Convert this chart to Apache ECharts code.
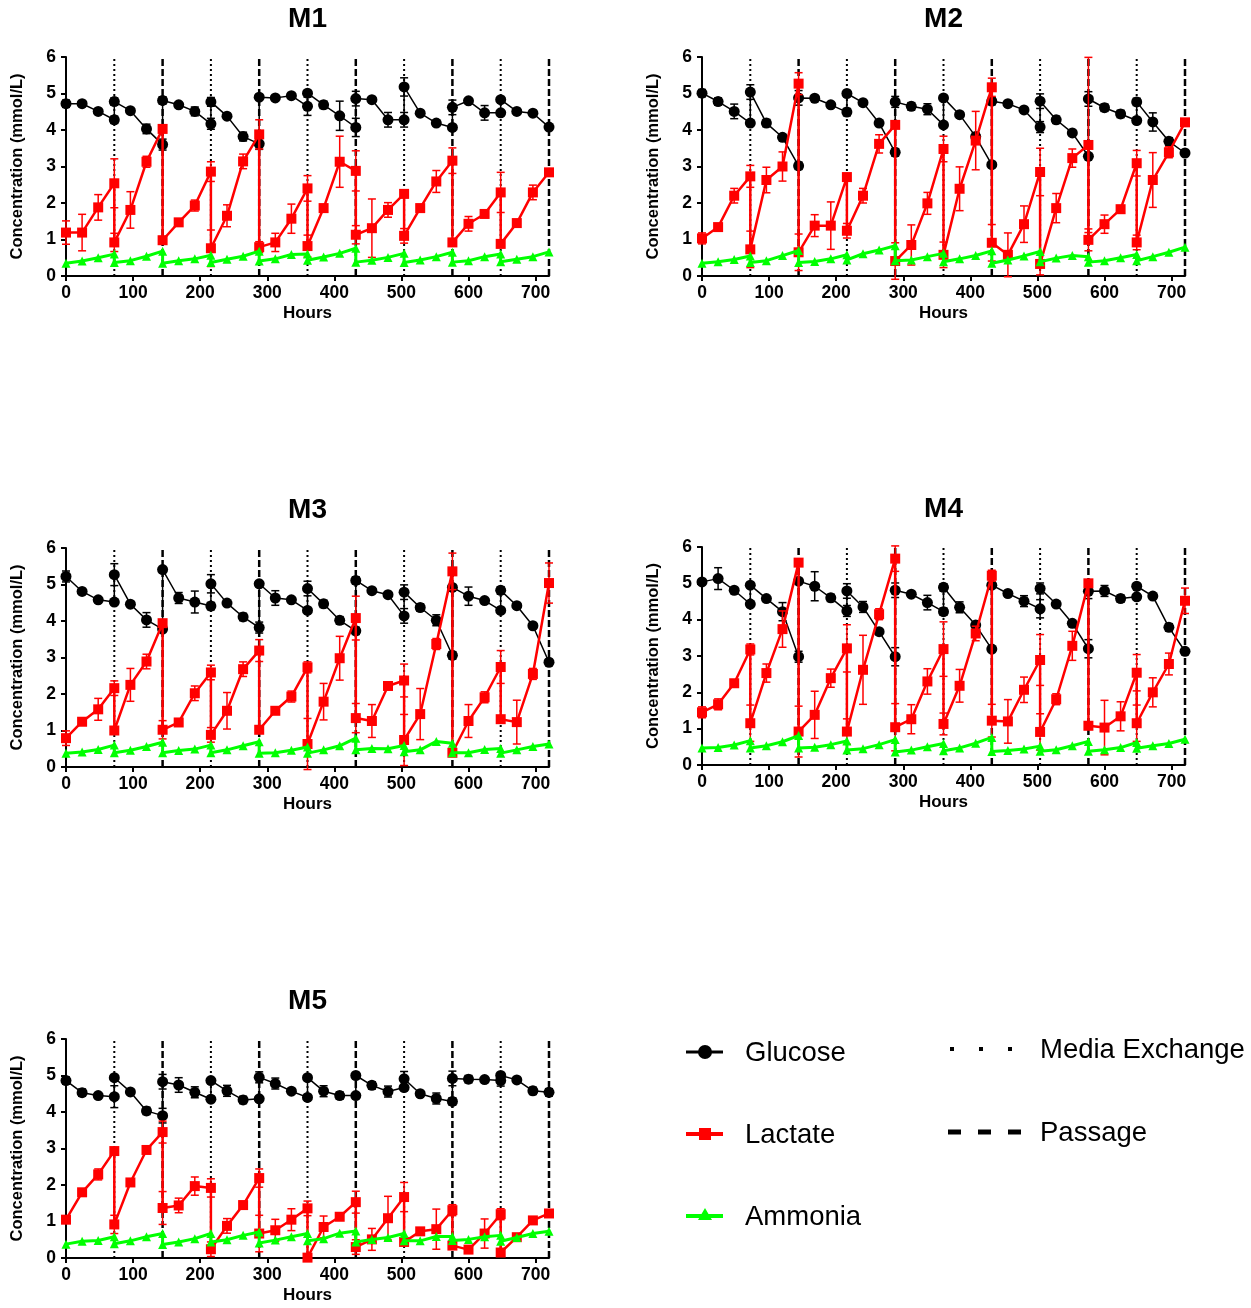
<!DOCTYPE html>
<html><head><meta charset="utf-8">
<script src="https://cdn.jsdelivr.net/npm/echarts@6/dist/echarts.min.js"></script>
<style>html,body{margin:0;padding:0;background:#fff}#c{width:1251px;height:1308px}</style>
</head><body><div id="c"></div>
<script>
const HOURS = [0,24,48,72,72,96,120,144,144,168,192,216,216,240,264,288,288,312,336,360,360,384,408,432,432,456,480,504,504,528,552,576,576,600,624,648,648,672,696,720];
const MEDIA_EXCHANGE = [72,216,360,504,648];
const PASSAGE = [144,288,432,576,720];
const PANEL_NAMES = ['M1','M2','M3','M4','M5'];
const SERIES_NAMES = ['Glucose','Lactate','Ammonia'];
const LINE_NAMES = ['Media Exchange','Passage'];

const M1_GLU = [4.72,4.72,4.51,4.28,4.78, 4.53,4.03,3.60,4.81, 4.69,4.51,4.17,4.77, 4.38,3.82,3.62,4.90, 4.88,4.94,4.65,5.01, 4.69,4.39,4.07,4.86, 4.83,4.28,4.28,5.18, 4.46,4.19,4.07,4.62, 4.80,4.47,4.47,4.83, 4.51,4.46,4.08];
const M1_LAC = [1.19,1.19,1.88,2.54,0.92, 1.81,3.13,4.03,0.98, 1.47,1.93,2.86,0.76, 1.65,3.14,3.88,0.79, 0.92,1.57,2.40,0.82, 1.86,3.13,2.88,1.13, 1.31,1.81,2.25,1.10, 1.86,2.59,3.16,0.92, 1.43,1.70,2.29,0.88, 1.45,2.29,2.84];
const M1_AMM = [0.35,0.41,0.50,0.60,0.37, 0.42,0.54,0.68,0.35, 0.42,0.47,0.57,0.37, 0.46,0.54,0.68,0.41, 0.47,0.59,0.60,0.43, 0.52,0.62,0.76,0.38, 0.43,0.51,0.62,0.37, 0.44,0.53,0.65,0.38, 0.42,0.53,0.60,0.39, 0.46,0.53,0.66];
const M1_GLU_ERR = [0.10,0.05,0.05,0.10,0.10, 0.05,0.13,0.15,0.10, 0.05,0.12,0.15,0.12, 0.05,0.12,0.15,0.05, 0.05,0.05,0.25,0.05, 0.10,0.40,0.25,0.20, 0.05,0.20,0.20,0.25, 0.05,0.05,0.05,0.20, 0.05,0.20,0.05,0.05, 0.05,0.05,0.05];
const M1_LAC_ERR = [0.32,0.50,0.35,0.67,0.25, 0.50,0.15,0.10,0.10, 0.05,0.15,0.27,0.50, 0.30,0.20,0.40,0.15, 0.25,0.40,0.35,0.30, 0.10,0.70,0.55,0.25, 0.80,0.20,0.10,0.20, 0.10,0.30,0.35,0.10, 0.20,0.10,0.55,0.10, 0.05,0.20,0.05];

const M2_GLU = [5.01,4.78,4.51,4.19,5.04, 4.19,3.80,3.02,4.88, 4.87,4.69,4.49,5.00, 4.75,4.19,3.39,4.77, 4.65,4.57,4.14,4.88, 4.42,3.82,3.05,4.79, 4.72,4.55,4.08,4.79, 4.28,3.92,3.28,4.85, 4.61,4.44,4.26,4.77, 4.22,3.69,3.37];
const M2_LAC = [1.03,1.34,2.20,2.73,0.73, 2.63,3.00,5.27,0.65, 1.38,1.38,2.71,1.24, 2.20,3.62,4.14,0.41, 0.85,1.99,3.48,0.58, 2.39,3.71,5.17,0.91, 0.58,1.42,2.85,0.33, 1.86,3.23,3.59,0.99, 1.42,1.83,3.09,0.92, 2.63,3.39,4.21];
const M2_AMM = [0.35,0.39,0.45,0.55,0.37, 0.42,0.56,0.70,0.37, 0.40,0.47,0.58,0.44, 0.61,0.71,0.83,0.42, 0.44,0.53,0.62,0.39, 0.47,0.56,0.69,0.35, 0.44,0.55,0.67,0.39, 0.49,0.56,0.53,0.38, 0.42,0.50,0.59,0.42, 0.53,0.65,0.79];
const M2_GLU_ERR = [0.10,0.10,0.20,0.05,0.20, 0.10,0.05,0.10,0.20, 0.05,0.05,0.10,0.05, 0.05,0.05,0.10,0.15, 0.10,0.15,0.05,0.05, 0.05,0.10,0.05,0.10, 0.05,0.05,0.15,0.20, 0.10,0.05,0.05,0.20, 0.10,0.10,0.05,0.10, 0.25,0.10,0.05];
const M2_LAC_ERR = [0.15,0.05,0.20,0.30,0.50, 0.35,0.40,0.30,0.50, 0.30,0.65,0.10,0.20, 0.20,0.25,0.05,0.50, 0.55,0.30,0.35,0.35, 0.60,0.80,0.25,0.50, 0.60,0.50,0.65,0.30, 0.40,0.25,2.40,0.30, 0.25,0.10,0.35,0.20, 0.75,0.15,0.05];

const M3_GLU = [5.22,4.81,4.58,4.52,5.27, 4.46,4.03,3.78,5.41, 4.63,4.52,4.41,5.02, 4.49,4.11,3.82,5.02, 4.63,4.58,4.29,4.89, 4.47,4.02,3.73,5.11, 4.83,4.72,4.14,4.79, 4.37,4.02,3.06,4.92, 4.68,4.56,4.29,4.84, 4.42,3.87,2.87];
const M3_LAC = [0.79,1.24,1.58,2.16,1.00, 2.25,2.89,3.94,1.02, 1.22,2.02,2.59,0.88, 1.54,2.68,3.19,1.02, 1.54,1.93,2.73,0.63, 1.79,2.98,4.08,1.34, 1.26,2.22,2.37,0.74, 1.45,3.37,5.36,0.39, 1.26,1.91,2.74,1.31, 1.23,2.55,5.04];
const M3_AMM = [0.38,0.41,0.48,0.60,0.39, 0.46,0.56,0.68,0.39, 0.45,0.49,0.60,0.39, 0.47,0.58,0.69,0.38, 0.39,0.46,0.55,0.38, 0.47,0.58,0.79,0.47, 0.51,0.50,0.59,0.42, 0.47,0.70,0.65,0.39, 0.39,0.48,0.51,0.38, 0.47,0.56,0.63];
const M3_GLU_ERR = [0.15,0.05,0.05,0.05,0.30, 0.05,0.20,0.05,0.05, 0.15,0.30,0.10,0.25, 0.05,0.10,0.15,0.05, 0.20,0.05,0.05,0.20, 0.10,0.10,0.10,0.10, 0.05,0.05,0.20,0.20, 0.10,0.15,0.10,0.05, 0.25,0.05,0.05,0.10, 0.05,0.05,0.05];
const M3_LAC_ERR = [0.20,0.05,0.30,0.20,0.05, 0.45,0.20,0.05,0.25, 0.05,0.20,0.20,0.20, 0.50,0.20,0.30,0.05, 0.05,0.15,0.15,0.70, 0.50,0.60,0.60,0.40, 0.45,0.05,0.45,0.70, 0.70,0.15,0.50,0.05, 0.45,0.15,0.45,0.05, 0.60,0.15,0.55];

const M4_GLU = [5.04,5.13,4.81,4.43,4.95, 4.58,4.22,2.98,5.06, 4.92,4.60,4.24,4.79, 4.35,3.67,2.98,4.81, 4.70,4.47,4.22,4.89, 4.34,3.85,3.19,4.95, 4.72,4.51,4.30,4.86, 4.43,3.90,3.20,4.78, 4.79,4.58,4.63,4.92, 4.65,3.79,3.13];
const M4_LAC = [1.45,1.67,2.25,3.18,1.15, 2.53,3.74,5.57,0.92, 1.38,2.39,3.21,0.92, 2.62,4.15,5.68,1.04, 1.26,2.30,3.19,1.13, 2.18,3.62,5.21,1.22, 1.20,2.07,2.89,0.91, 1.81,3.28,5.00,1.08, 1.03,1.34,2.54,1.15, 2.00,2.78,4.52];
const M4_AMM = [0.47,0.48,0.55,0.67,0.47, 0.53,0.64,0.81,0.47, 0.49,0.56,0.66,0.41, 0.45,0.56,0.70,0.36, 0.41,0.50,0.59,0.39, 0.47,0.60,0.76,0.37, 0.40,0.44,0.52,0.38, 0.42,0.53,0.65,0.38, 0.42,0.48,0.62,0.46, 0.53,0.59,0.71];
const M4_GLU_ERR = [0.05,0.30,0.05,0.05,0.05, 0.05,0.25,0.15,0.05, 0.40,0.10,0.15,0.20, 0.15,0.05,0.25,0.20, 0.05,0.20,0.10,0.10, 0.15,0.05,0.05,0.05, 0.05,0.15,0.25,0.15, 0.05,0.05,0.25,0.20, 0.15,0.10,0.05,0.05, 0.05,0.10,0.05];
const M4_LAC_ERR = [0.15,0.15,0.05,0.15,0.50, 0.25,0.50,0.05,0.70, 0.65,0.25,0.65,0.35, 0.95,0.15,0.35,0.65, 0.40,0.35,0.75,0.30, 0.45,0.20,0.15,0.45, 0.60,0.35,0.70,0.50, 0.15,0.40,0.05,0.10, 0.75,0.40,0.50,0.50, 0.40,0.30,0.35];

const M5_GLU = [4.86,4.53,4.45,4.42,4.94, 4.55,4.03,3.90,4.83, 4.74,4.54,4.35,4.86, 4.58,4.33,4.36,4.95, 4.78,4.57,4.40,4.94, 4.57,4.45,4.45,5.00, 4.73,4.56,4.67,4.91, 4.50,4.37,4.29,4.92, 4.90,4.89,4.86,5.00, 4.88,4.58,4.54];
const M5_LAC = [1.05,1.80,2.29,2.93,0.92, 2.07,2.96,3.45,1.37, 1.44,1.97,1.92,0.24, 0.88,1.45,2.19,0.67, 0.76,1.05,1.36,0.01, 0.85,1.13,1.53,0.30, 0.51,1.09,1.67,0.44, 0.73,0.79,1.31,0.34, 0.23,0.67,1.20,0.15, 0.57,1.03,1.22];
const M5_AMM = [0.38,0.46,0.48,0.58,0.39, 0.47,0.58,0.67,0.37, 0.44,0.53,0.67,0.44, 0.50,0.62,0.71,0.41, 0.49,0.58,0.67,0.47, 0.53,0.68,0.74,0.44, 0.51,0.56,0.67,0.47, 0.47,0.59,0.59,0.48, 0.51,0.58,0.62,0.46, 0.56,0.67,0.73];
const M5_GLU_ERR = [0.10,0.10,0.05,0.30,0.05, 0.05,0.10,0.20,0.20, 0.20,0.15,0.05,0.05, 0.15,0.10,0.05,0.15, 0.15,0.05,0.05,0.05, 0.15,0.10,0.05,0.05, 0.10,0.15,0.05,0.20, 0.05,0.15,0.10,0.20, 0.10,0.05,0.15,0.05, 0.05,0.10,0.10];
const M5_LAC_ERR = [0.10,0.05,0.15,0.05,0.25, 0.10,0.05,0.30,0.45, 0.20,0.25,0.25,0.20, 0.20,0.10,0.25,0.50, 0.30,0.30,0.20,0.05, 0.30,0.05,0.30,0.20, 0.30,0.60,0.40,0.10, 0.05,0.55,0.15,0.05, 0.05,0.40,0.15,0.10, 0.05,0.05,0.05];

const PANELS = [
  {glu:M1_GLU, lac:M1_LAC, amm:M1_AMM, gluErr:M1_GLU_ERR, lacErr:M1_LAC_ERR},
  {glu:M2_GLU, lac:M2_LAC, amm:M2_AMM, gluErr:M2_GLU_ERR, lacErr:M2_LAC_ERR},
  {glu:M3_GLU, lac:M3_LAC, amm:M3_AMM, gluErr:M3_GLU_ERR, lacErr:M3_LAC_ERR},
  {glu:M4_GLU, lac:M4_LAC, amm:M4_AMM, gluErr:M4_GLU_ERR, lacErr:M4_LAC_ERR},
  {glu:M5_GLU, lac:M5_LAC, amm:M5_AMM, gluErr:M5_GLU_ERR, lacErr:M5_LAC_ERR}
];

// layout (pixels)
const GRIDS = [
  {left:66, top:57, width:483, height:219},
  {left:702, top:57, width:483, height:219},
  {left:66, top:548, width:483, height:219},
  {left:702, top:547, width:483, height:218},
  {left:66, top:1039, width:483, height:219}
];
const FONT = "'Liberation Sans', Arial, sans-serif";
const GLU_C = '#000000', LAC_C = '#ff0000', AMM_C = '#00ff00';

function errRender(color) {
  return function (params, api) {
    const x = api.value(0), y = api.value(1), e = api.value(2);
    const lo = api.coord([x, y - e]), hi = api.coord([x, y + e]);
    const hw = 4;
    const style = {stroke: color, lineWidth: 1.5};
    return {type: 'group', children: [
      {type: 'line', shape: {x1: lo[0], y1: lo[1], x2: hi[0], y2: hi[1]}, style: style},
      {type: 'line', shape: {x1: lo[0]-hw, y1: lo[1], x2: lo[0]+hw, y2: lo[1]}, style: style},
      {type: 'line', shape: {x1: hi[0]-hw, y1: hi[1], x2: hi[0]+hw, y2: hi[1]}, style: style}
    ]};
  };
}
function vlineRender(dash, width) {
  return function (params, api) {
    const x = api.value(0);
    const a = api.coord([x, 0]), b = api.coord([x, 6]);
    return {type: 'line', shape: {x1: a[0], y1: a[1], x2: b[0], y2: b[1]},
      style: {stroke: '#000', lineWidth: width, lineDash: dash}};
  };
}

const grid = [], xAxis = [], yAxis = [], series = [], graphic = [];
GRIDS.forEach((g, i) => {
  grid.push(g);
  xAxis.push({
    type: 'value', gridIndex: i, min: 0, max: 720, interval: 100,
    name: 'Hours', nameLocation: 'middle', nameGap: 29,
    nameTextStyle: {fontFamily: FONT, fontWeight: 'bold', fontSize: 17, color: '#000'},
    axisLine: {lineStyle: {color: '#000', width: 2}},
    axisTick: {length: 5, lineStyle: {color: '#000', width: 2}},
    axisLabel: {fontFamily: FONT, fontWeight: 'bold', fontSize: 17.5, color: '#000', margin: 8, showMaxLabel: false},
    splitLine: {show: false}
  });
  yAxis.push({
    type: 'value', gridIndex: i, min: 0, max: 6, interval: 1,
    name: 'Concentration (mmol/L)', nameLocation: 'middle', nameGap: 40,
    nameTextStyle: {fontFamily: FONT, fontWeight: 'bold', fontSize: 16.5, color: '#000'},
    axisLine: {show: true, lineStyle: {color: '#000', width: 2}},
    axisTick: {show: true, length: 5, lineStyle: {color: '#000', width: 2}},
    axisLabel: {fontFamily: FONT, fontWeight: 'bold', fontSize: 17.5, color: '#000', margin: 10},
    splitLine: {show: false}
  });
  const p = PANELS[i];
  const xy = (arr) => HOURS.map((h, k) => [h, arr[k]]);
  const xye = (arr, err) => HOURS.map((h, k) => [h, arr[k], err[k]]);
  series.push(
    {type: 'custom', name: LINE_NAMES[0], xAxisIndex: i, yAxisIndex: i, z: 1, silent: true,
      renderItem: vlineRender([2, 3], 2), data: MEDIA_EXCHANGE.map(v => [v, 0]), encode: {x: 0, y: 1}},
    {type: 'custom', name: LINE_NAMES[1], xAxisIndex: i, yAxisIndex: i, z: 1, silent: true,
      renderItem: vlineRender([7, 3], 2.5), data: PASSAGE.map(v => [v, 0]), encode: {x: 0, y: 1}},
    {type: 'custom', xAxisIndex: i, yAxisIndex: i, z: 2, silent: true,
      renderItem: errRender(GLU_C), data: xye(p.glu, p.gluErr), encode: {x: 0, y: 1}},
    {type: 'line', name: SERIES_NAMES[0], xAxisIndex: i, yAxisIndex: i, z: 3, data: xy(p.glu),
      symbol: 'circle', symbolSize: 11, itemStyle: {color: GLU_C}, lineStyle: {color: GLU_C, width: 1.5}, animation: false},
    {type: 'custom', xAxisIndex: i, yAxisIndex: i, z: 4, silent: true,
      renderItem: errRender(LAC_C), data: xye(p.lac, p.lacErr), encode: {x: 0, y: 1}},
    {type: 'line', name: SERIES_NAMES[1], xAxisIndex: i, yAxisIndex: i, z: 5, data: xy(p.lac),
      symbol: 'rect', symbolSize: 10, itemStyle: {color: LAC_C}, lineStyle: {color: LAC_C, width: 2.5}, animation: false},
    {type: 'line', name: SERIES_NAMES[2], xAxisIndex: i, yAxisIndex: i, z: 6, data: xy(p.amm),
      symbol: 'triangle', symbolSize: 9, itemStyle: {color: AMM_C}, lineStyle: {color: AMM_C, width: 3}, animation: false}
  );
  graphic.push({type: 'text', x: g.left + g.width / 2, y: g.top - 38,
    style: {text: PANEL_NAMES[i], font: 'bold 28px ' + FONT, fill: '#000', align: 'center', textAlign: 'center', verticalAlign: 'middle', textVerticalAlign: 'middle'}});
});

// legend
const LG = {x1: 686, x2: 723, cx: 705, tx: 745};
const legendRows = [1052, 1134, 1216];
const legendColors = [GLU_C, LAC_C, AMM_C];
legendRows.forEach((y, k) => {
  graphic.push({type: 'line', shape: {x1: LG.x1, y1: y, x2: LG.x2, y2: y}, style: {stroke: legendColors[k], lineWidth: k === 0 ? 3 : 4}});
  if (k === 0) graphic.push({type: 'circle', shape: {cx: LG.cx, cy: y, r: 7}, style: {fill: GLU_C}});
  if (k === 1) graphic.push({type: 'rect', shape: {x: LG.cx - 6, y: y - 6, width: 12, height: 12}, style: {fill: LAC_C}});
  if (k === 2) graphic.push({type: 'polygon', shape: {points: [[LG.cx, y - 8], [LG.cx - 7, y + 4], [LG.cx + 7, y + 4]]}, style: {fill: AMM_C}});
  graphic.push({type: 'text', x: LG.tx, y: y + 1, style: {text: SERIES_NAMES[k], font: '27.5px ' + FONT, fill: '#000', align: 'left', textAlign: 'left', verticalAlign: 'middle', textVerticalAlign: 'middle'}});
});
[952, 981, 1010].forEach(x => graphic.push({type: 'rect', shape: {x: x - 2, y: 1047, width: 4, height: 4}, style: {fill: '#000'}}));
[948, 978, 1008].forEach(x => graphic.push({type: 'rect', shape: {x: x, y: 1129.5, width: 13, height: 5}, style: {fill: '#000'}}));
graphic.push({type: 'text', x: 1040, y: 1050, style: {text: LINE_NAMES[0], font: '27.5px ' + FONT, fill: '#000', align: 'left', textAlign: 'left', verticalAlign: 'middle', textVerticalAlign: 'middle'}});
graphic.push({type: 'text', x: 1040, y: 1133, style: {text: LINE_NAMES[1], font: '27.5px ' + FONT, fill: '#000', align: 'left', textAlign: 'left', verticalAlign: 'middle', textVerticalAlign: 'middle'}});

const chart = echarts.init(document.getElementById('c'), null, {renderer: 'canvas'});
chart.setOption({animation: false, backgroundColor: '#fff', grid, xAxis, yAxis, series, graphic});
</script></body></html>
